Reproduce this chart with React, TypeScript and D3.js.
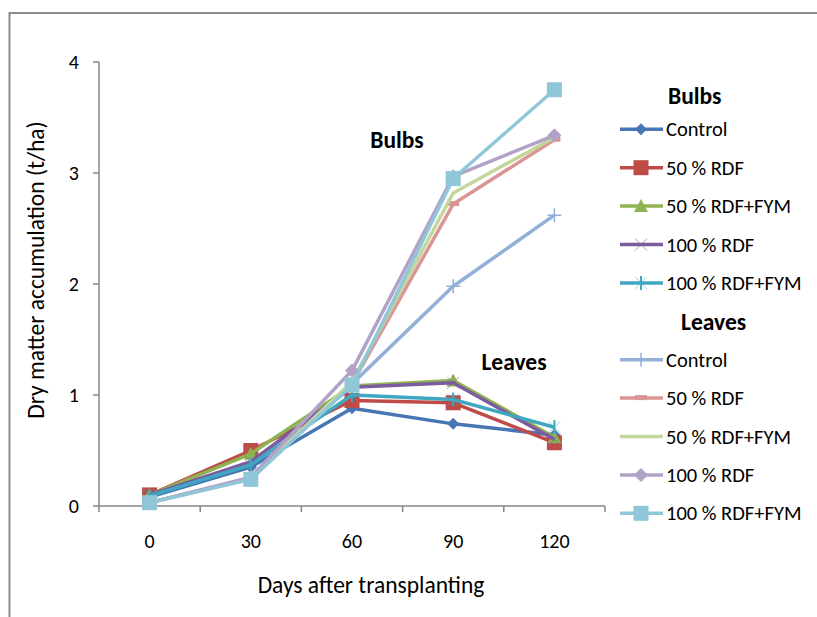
import * as d3 from "d3";
import { useEffect, useRef } from "react";

const days = ["0", "30", "60", "90", "120"];
const treatments = ["Control", "50 % RDF", "50 % RDF+FYM", "100 % RDF", "100 % RDF+FYM"];
const groups = ["Bulbs", "Leaves"];

// legend group "Bulbs" (dark lines)
const controlDark = [0.08, 0.35, 0.88, 0.74, 0.64];
const rdf50Dark = [0.1, 0.5, 0.95, 0.93, 0.57];
const rdf50FymDark = [0.1, 0.47, 1.08, 1.13, 0.62];
const rdf100Dark = [0.1, 0.4, 1.07, 1.11, 0.6];
const rdf100FymDark = [0.09, 0.37, 1.0, 0.96, 0.71];

// legend group "Leaves" (light lines)
const controlLight = [0.03, 0.25, 1.1, 1.98, 2.62];
const rdf50Light = [0.03, 0.25, 1.1, 2.72, 3.3];
const rdf50FymLight = [0.03, 0.25, 1.12, 2.82, 3.32];
const rdf100Light = [0.03, 0.26, 1.22, 2.97, 3.34];
const rdf100FymLight = [0.03, 0.24, 1.09, 2.95, 3.75];

const yTicks = [0, 1, 2, 3, 4];

type Marker = "diamond" | "square" | "triangle" | "x" | "star" | "plus" | "dash" | "none" | "bigdiamond";

interface Series {
  group: string;
  name: string;
  values: number[];
  color: string;
  marker: Marker;
}

const darkColors = ["#4676b4", "#be4b48", "#8fb350", "#7b5d9f", "#41a7c1"];
const lightColors = ["#93b0d8", "#d99694", "#c3d69b", "#b3a2c7", "#8fc7d8"];
const darkMarkers: Marker[] = ["diamond", "square", "triangle", "x", "star"];
const lightMarkers: Marker[] = ["plus", "dash", "none", "bigdiamond", "square"];

const darkValues = [controlDark, rdf50Dark, rdf50FymDark, rdf100Dark, rdf100FymDark];
const lightValues = [controlLight, rdf50Light, rdf50FymLight, rdf100Light, rdf100FymLight];

const series: Series[] = [
  ...treatments.map((name, i) => ({ group: groups[0], name, values: darkValues[i], color: darkColors[i], marker: darkMarkers[i] })),
  ...treatments.map((name, i) => ({ group: groups[1], name, values: lightValues[i], color: lightColors[i], marker: lightMarkers[i] })),
];

const FONT = "Carlito, Lato, 'Liberation Sans', sans-serif";

function drawMarker(g: d3.Selection<SVGGElement, unknown, null, undefined>, m: Marker, color: string) {
  if (m === "diamond") {
    g.append("path").attr("d", "M0,-6L6,0L0,6L-6,0Z").attr("fill", color);
  } else if (m === "bigdiamond") {
    g.append("path").attr("d", "M0,-7L7,0L0,7L-7,0Z").attr("fill", color);
  } else if (m === "square") {
    g.append("rect").attr("x", -7.5).attr("y", -7.5).attr("width", 15).attr("height", 15).attr("fill", color);
  } else if (m === "triangle") {
    g.append("path").attr("d", "M0,-7L7,6L-7,6Z").attr("fill", color);
  } else if (m === "x") {
    g.append("path").attr("d", "M-6,-6L6,6M6,-6L-6,6").attr("stroke", color).attr("stroke-width", 1).attr("opacity", 0.6);
  } else if (m === "star") {
    g.append("path").attr("d", "M-6,-6L6,6M6,-6L-6,6").attr("stroke", color).attr("stroke-width", 1).attr("opacity", 0.5);
    g.append("path").attr("d", "M0,-7L0,7").attr("stroke", color).attr("stroke-width", 2);
  } else if (m === "plus") {
    g.append("path").attr("d", "M-7,0L7,0M0,-7L0,7").attr("stroke", color).attr("stroke-width", 1.5);
  } else if (m === "dash") {
    g.append("rect").attr("x", -6).attr("y", -3).attr("width", 12).attr("height", 5).attr("fill", color);
  }
}

function Chart() {
  const ref = useRef<SVGSVGElement>(null);

  useEffect(() => {
    if (!ref.current) return;
    const svg = d3.select(ref.current);
    svg.selectAll("*").remove();

    // chart frame
    svg.append("path")
      .attr("d", "M9.5,617V13H817")
      .attr("fill", "none")
      .attr("stroke", "#8c8c8c")
      .attr("stroke-width", 2);

    const left = 99, right = 605, top = 62, bottom = 506;

    const x = d3.scaleBand().domain(days).range([left, right]);
    const y = d3.scaleLinear().domain([0, 4]).range([bottom, top]);

    const axisColor = "#868686";

    // y axis
    const yAxis = svg.append("g");
    yAxis.append("line").attr("x1", left).attr("x2", left).attr("y1", top).attr("y2", bottom)
      .attr("stroke", axisColor).attr("stroke-width", 1.5);
    yTicks.forEach(t => {
      yAxis.append("line").attr("x1", left - 6).attr("x2", left).attr("y1", y(t)).attr("y2", y(t))
        .attr("stroke", axisColor).attr("stroke-width", 1.5);
      yAxis.append("text").attr("x", 79).attr("y", y(t)).attr("dy", "0.35em")
        .attr("text-anchor", "end").attr("font-size", 20).attr("font-family", FONT).attr("fill", "#000")
        .text(String(t));
    });

    // x axis
    const xAxis = svg.append("g");
    xAxis.append("line").attr("x1", left).attr("x2", right).attr("y1", bottom).attr("y2", bottom)
      .attr("stroke", axisColor).attr("stroke-width", 1.5);
    const bounds = [...days.map(d => x(d)!), right];
    bounds.forEach(b => {
      xAxis.append("line").attr("x1", b).attr("x2", b).attr("y1", bottom).attr("y2", bottom + 6)
        .attr("stroke", axisColor).attr("stroke-width", 1.5);
    });
    days.forEach(d => {
      xAxis.append("text").attr("x", x(d)! + x.bandwidth() / 2).attr("y", 541).attr("dy", "0.35em")
        .attr("text-anchor", "middle").attr("font-size", 20).attr("font-family", FONT).attr("fill", "#000")
        .text(d);
    });

    // axis titles
    svg.append("text").attr("x", 371).attr("y", 585).attr("dy", "0.35em").attr("text-anchor", "middle")
      .attr("font-size", 23.5).attr("font-family", FONT).text("Days after transplanting");
    svg.append("text").attr("transform", "translate(36,270) rotate(-90)").attr("dy", "0.35em")
      .attr("text-anchor", "middle").attr("font-size", 23.5).attr("font-family", FONT)
      .text("Dry matter accumulation (t/ha)");

    const cx = (i: number) => x(days[i])! + x.bandwidth() / 2;
    const line = d3.line<number>().x((_, i) => cx(i)).y(v => y(v));

    const plot = svg.append("g");
    series.forEach(s => {
      const g = plot.append("g");
      g.append("path").attr("d", line(s.values)).attr("fill", "none")
        .attr("stroke", s.color).attr("stroke-width", 3.5).attr("stroke-linejoin", "round");
      s.values.forEach((v, i) => {
        const mg = g.append("g").attr("transform", `translate(${cx(i)},${y(v)})`);
        drawMarker(mg, s.marker, s.color);
      });
    });

    // in-plot labels
    svg.append("text").attr("x", 397).attr("y", 140).attr("dy", "0.35em").attr("text-anchor", "middle")
      .attr("font-size", 23.5).attr("font-weight", "bold").attr("font-family", FONT).text(groups[0]);
    svg.append("text").attr("x", 514).attr("y", 362).attr("dy", "0.35em").attr("text-anchor", "middle")
      .attr("font-size", 23.5).attr("font-weight", "bold").attr("font-family", FONT).text(groups[1]);

    // legend
    const legend = svg.append("g");
    const rowY = (i: number) => 90.9 + i * 38.4;
    legend.append("text").attr("x", 668).attr("y", 96).attr("dy", "0.35em")
      .attr("font-size", 23.5).attr("font-weight", "bold").attr("font-family", FONT).text(groups[0]);
    legend.append("text").attr("x", 681).attr("y", rowY(6)).attr("dy", "0.35em")
      .attr("font-size", 23.5).attr("font-weight", "bold").attr("font-family", FONT).text(groups[1]);
    series.forEach((s, k) => {
      const row = k < 5 ? k + 1 : k + 2;
      const ly = rowY(row);
      const lg = legend.append("g");
      lg.append("line").attr("x1", 620).attr("x2", 663).attr("y1", ly).attr("y2", ly)
        .attr("stroke", s.color).attr("stroke-width", 3.5);
      const mg = lg.append("g").attr("transform", `translate(641,${ly})`);
      drawMarker(mg, s.marker, s.color);
      lg.append("text").attr("x", 666).attr("y", ly).attr("dy", "0.35em")
        .attr("font-size", 20.5).attr("font-family", FONT).attr("fill", "#000").text(s.name);
    });
  }, []);

  return (
    <svg ref={ref} width={817} height={617}
      style={{ position: "absolute", left: 0, top: 0, background: "#fff", display: "block" }} />
  );
}

export default function App() {
  return <Chart />;
}
